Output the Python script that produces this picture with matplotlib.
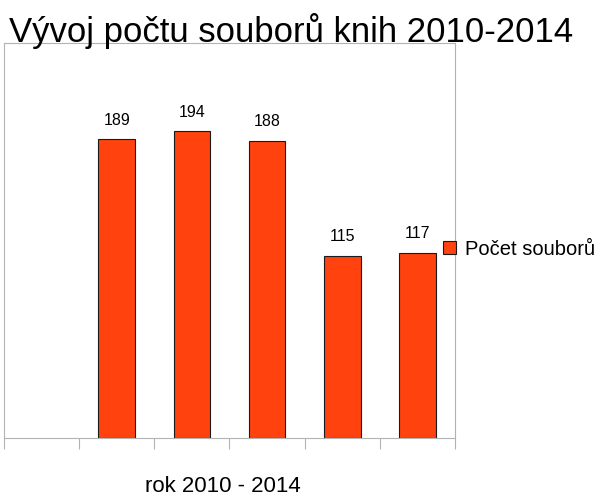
import numpy as np
import matplotlib.pyplot as plt
from matplotlib.patches import Patch

plt.rcParams['font.family'] = ['Liberation Sans', 'DejaVu Sans']

years = ['2010', '2011', '2012', '2013', '2014']
counts = [189, 194, 188, 115, 117]
series_name = 'Počet souborů'

fig = plt.figure(figsize=(6.02, 4.96), dpi=100)
ax = fig.add_axes([4 / 602, 58 / 496, 451 / 602, 395 / 496])

# first category slot is left empty, as in the original chart
x = np.arange(1, len(years) + 1)
bars = ax.bar(x, counts, width=0.49, color='#ff420e', edgecolor='#1a1a1a', linewidth=0.8)
for b, v in zip(bars, counts):
    ax.annotate(str(v), (b.get_x() + b.get_width() / 2, v), xytext=(0, 8.5), textcoords='offset points',
                ha='center', va='bottom', fontsize=11.5)

ax.set_xlim(-0.5, len(years) + 0.5)
ax.set_ylim(0, 250)
ax.set_xticks(np.arange(-0.5, len(years) + 1, 1))
ax.set_xticklabels([])
ax.tick_params(axis='x', length=8, color='#b3b3b3', direction='out')
ax.set_yticks([])
for s in ax.spines.values():
    s.set_color('#b3b3b3')
    s.set_linewidth(0.8)

fig.text(223 / 602, 1 - 492 / 496, 'rok 2010 - 2014', fontsize=16, ha='center', va='baseline')

fig.text(9 / 602, 1 - 42 / 496, 'Vývoj počtu souborů knih 2010-2014', fontsize=25, ha='left', va='baseline')

handle = Patch(facecolor='#ff420e', edgecolor='#1a1a1a', linewidth=0.8)
fig.legend([handle], [series_name], loc='center left', bbox_to_anchor=(443 / 602, 1 - 249 / 496),
           frameon=False, fontsize=14.5, handlelength=0.65, handleheight=0.65, handletextpad=0.45,
           borderpad=0, borderaxespad=0)

fig.savefig('out.png', dpi=100)
